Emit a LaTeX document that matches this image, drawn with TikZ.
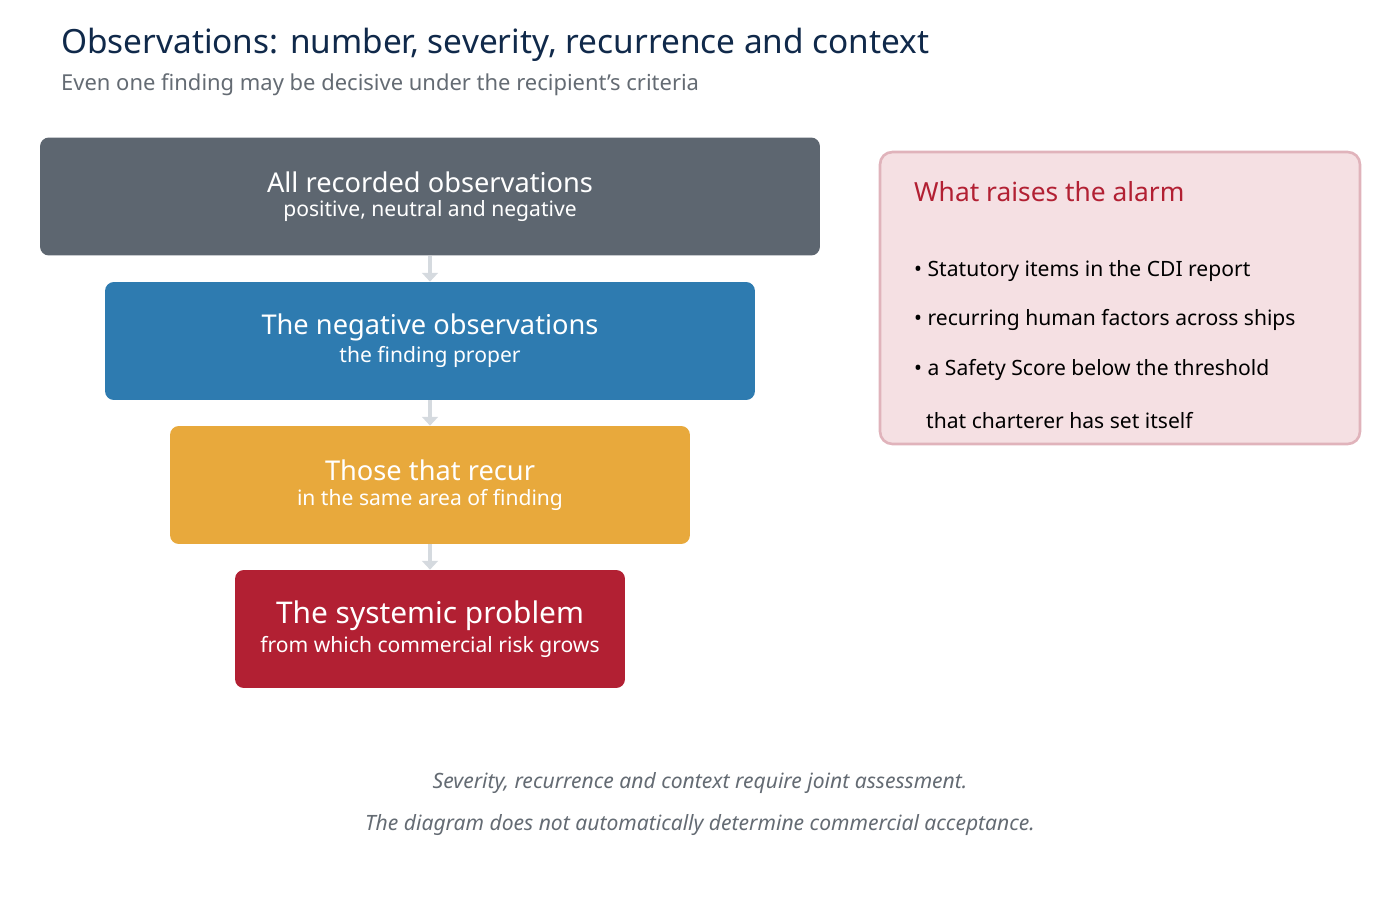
\documentclass[tikz,border=0pt]{standalone}
\usepackage{fontspec}
\setmainfont{Noto Sans}
\usetikzlibrary{arrows.meta,positioning}
\definecolor{navy}{HTML}{10294A}
\definecolor{greytxt}{HTML}{646B73}
\definecolor{slate}{HTML}{5D6670}
\definecolor{steel}{HTML}{2E7BB0}
\definecolor{amber}{HTML}{E8A93C}
\definecolor{crimson}{HTML}{B22033}
\definecolor{blush}{HTML}{F5E0E3}
\definecolor{blushline}{HTML}{E0B3BB}
\definecolor{flow}{HTML}{D5DADF}
\tikzset{
  level/.style={rounded corners=5pt, minimum height=2.36cm, text=white, align=center, inner sep=0pt},
  narrow/.style={draw=flow, line width=2.5pt, -{Triangle[length=5pt,width=9pt]}},
}
\begin{document}
\begin{tikzpicture}[x=0.02cm,y=-0.02cm]
\useasboundingbox (0,0) rectangle (1400,900);
% heading
\node (title) [anchor=west, text=navy, font=\fontsize{19}{22}\selectfont\bfseries] at (55,45) {Observations: number, severity, recurrence and context};
\node (subtitle) [anchor=west, text=greytxt, font=\fontsize{12.5}{15}\selectfont] at (55,85) {Even one finding may be decisive under the recipient’s criteria};
% funnel
\node (all) [level, fill=slate, minimum width=15.6cm] at (430,196.5)
  {{\fontsize{15.5}{19}\selectfont\bfseries All recorded observations}\\[2pt]{\fontsize{12}{14}\selectfont positive, neutral and negative}};
\node (neg) [level, fill=steel, minimum width=13cm] at (430,341)
  {{\fontsize{15.5}{19}\selectfont\bfseries The negative observations}\\[2pt]{\fontsize{12}{14}\selectfont the finding proper}};
\node (recur) [level, fill=amber, minimum width=10.4cm] at (430,485)
  {{\fontsize{15.5}{19}\selectfont\bfseries Those that recur}\\[2pt]{\fontsize{12}{14}\selectfont in the same area of finding}};
\node (sys) [level, fill=crimson, minimum width=7.8cm] at (430,629)
  {{\fontsize{17}{20}\selectfont\bfseries The systemic problem}\\[2pt]{\fontsize{12}{14}\selectfont from which commercial risk grows}};
\draw [narrow] (all.south) -- (neg.north);
\draw [narrow] (neg.south) -- (recur.north);
\draw [narrow] (recur.south) -- (sys.north);
% alarm box
\node (alarm) [draw=blushline, fill=blush, line width=1.5pt, rounded corners=7pt, minimum width=9.6cm, minimum height=5.84cm] at (1120,298) {};
\node (alarmhead) [anchor=west, text=crimson, font=\fontsize{15}{18}\selectfont\bfseries] at (908,192) {What raises the alarm};
\node (b1) [anchor=west, font=\fontsize{12}{14}\selectfont] at (908,271) {• Statutory items in the CDI report};
\node (b2) [anchor=west, font=\fontsize{12}{14}\selectfont] at (908,320) {• recurring human factors across ships};
\node (b3) [anchor=west, font=\fontsize{12}{14}\selectfont] at (908,370) {• a Safety Score below the threshold};
\node (b4) [anchor=west, font=\fontsize{12}{14}\selectfont] at (920,421) {that charterer has set itself};
% footer
\node (note1) [text=greytxt, font=\fontsize{12}{14}\selectfont\itshape] at (700,783) {Severity, recurrence and context require joint assessment.};
\node (note2) [text=greytxt, font=\fontsize{12}{14}\selectfont\itshape] at (700,825) {The diagram does not automatically determine commercial acceptance.};
\end{tikzpicture}
\end{document}
